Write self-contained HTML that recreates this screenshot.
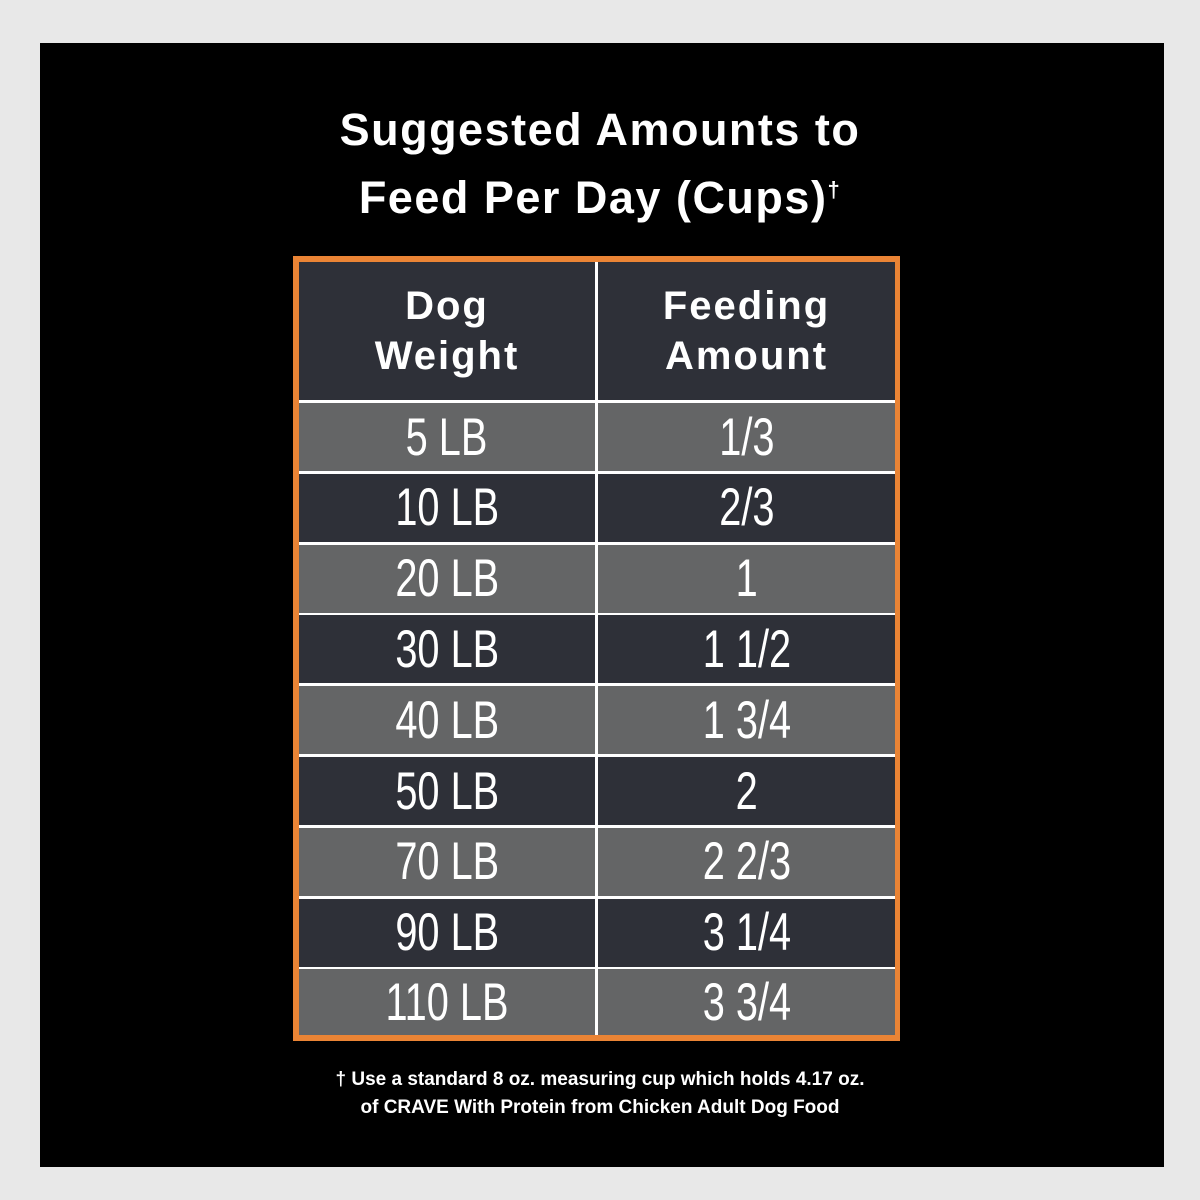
<!DOCTYPE html>
<html><head><style>
body{margin:0;width:1200px;height:1200px;background:#e8e8e8;position:relative;overflow:hidden;font-family:"Liberation Sans",sans-serif}
#panel{position:absolute;left:40px;top:43px;width:1124px;height:1124px;background:#000}
.t{position:absolute;color:#fff;text-align:center;white-space:nowrap}
#title{left:0;width:1200px;top:100px;font-size:45px;font-weight:bold;line-height:60px;letter-spacing:1.5px}
#border{position:absolute;left:293px;top:256px;width:607px;height:785px;background:#ea8435}
#tbl{position:absolute;left:299px;top:262px;width:596px;height:773px;background:#fff}
.c{position:absolute;display:flex;align-items:center;justify-content:center;color:#fff}
.hd{font-weight:bold;font-size:40px;line-height:50px;text-align:center;letter-spacing:2px;background:#2e3038}
.n{font-family:"Liberation Sans Narrow","Liberation Sans",sans-serif;font-size:53px}
.n span{display:inline-block;transform:scaleX(0.75)}
#foot{left:0;width:1200px;top:1066px;font-size:19px;font-weight:bold;line-height:28px}
</style></head><body>
<div id="panel"></div>
<div class="t" id="title">Suggested Amounts to<br>Feed Per Day (Cups)<sup style="font-size:22px">†</sup></div>
<div id="border"></div>
<div id="tbl">
<div class="c hd" style="left:0;top:0;width:296px;height:138px">Dog<br>Weight</div>
<div class="c hd" style="left:299px;top:0;width:297px;height:138px">Feeding<br>Amount</div>
</div>
<script>
var rows=[["5 LB","1/3"],["10 LB","2/3"],["20 LB","1"],["30 LB","1 1/2"],["40 LB","1 3/4"],["50 LB","2"],["70 LB","2 2/3"],["90 LB","3 1/4"],["110 LB","3 3/4"]];
var t=document.getElementById('tbl'),h='';
for(var i=0;i<rows.length;i++){var y=141+i*70.8;var bg=i%2==0?'#646566':'#2e3038';var hh=(i==8?773-y:68);
h+='<div class="c n" style="left:0;top:'+y+'px;width:296px;height:'+hh+'px;background:'+bg+'"><span>'+rows[i][0]+'</span></div>';
h+='<div class="c n" style="left:299px;top:'+y+'px;width:297px;height:'+hh+'px;background:'+bg+'"><span>'+rows[i][1]+'</span></div>';}
t.innerHTML+=h;
</script>
<div class="t" id="foot">† Use a standard 8 oz. measuring cup which holds 4.17 oz.<br>of CRAVE With Protein from Chicken Adult Dog Food</div>
</body></html>
